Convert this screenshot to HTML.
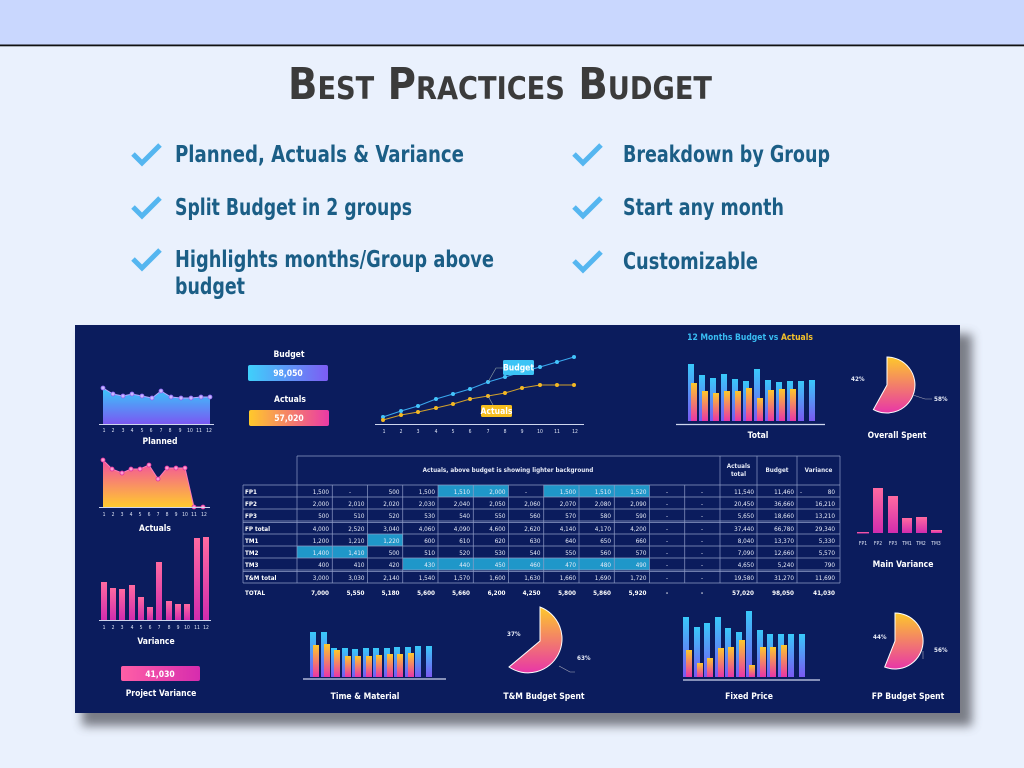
<!DOCTYPE html>
<html><head><meta charset="utf-8"><style>
html,body{margin:0;padding:0;width:1024px;height:768px;overflow:hidden;background:#eaf1fd}
svg{display:block}
text{font-family:"DejaVu Sans Condensed","Liberation Sans",sans-serif}
.t{fill:#e8ecf8;font-size:6.3px}
.tc{fill:#e8ecf8;font-size:6.3px;text-anchor:middle}
.tl{fill:#fff;font-size:6.3px;font-weight:bold}
.ax{fill:#dfe5f5;font-size:5px;text-anchor:middle}
.lbl{fill:#fff;font-size:8.5px;font-weight:bold;text-anchor:middle}
.bul{fill:#1b5e86;font-size:23px;font-weight:bold}
.chk{fill:none;stroke:#55b6f0;stroke-width:5;stroke-linecap:butt}
.g{stroke:#8f9cc6;stroke-width:.7}
</style></head><body>
<svg width="1024" height="768" viewBox="0 0 1024 768" xmlns="http://www.w3.org/2000/svg">
<defs>
<linearGradient id="gb" x1="0" y1="0" x2="0" y2="1"><stop offset="0" stop-color="#38c9fa"/><stop offset="1" stop-color="#7a58f2"/></linearGradient>
<linearGradient id="gy" x1="0" y1="0" x2="0" y2="1"><stop offset="0" stop-color="#fdc82b"/><stop offset="1" stop-color="#e836a8"/></linearGradient>
<linearGradient id="gp" x1="0" y1="0" x2="0" y2="1"><stop offset="0" stop-color="#ff6aa0"/><stop offset="1" stop-color="#d22cae"/></linearGradient>
<linearGradient id="ga" x1="0" y1="0" x2="0" y2="1"><stop offset="0" stop-color="#f24fa0"/><stop offset="1" stop-color="#ffca2e"/></linearGradient>
<linearGradient id="hb" x1="0" y1="0" x2="1" y2="0"><stop offset="0" stop-color="#3fd0fb"/><stop offset="1" stop-color="#7d5cf3"/></linearGradient>
<linearGradient id="hy" x1="0" y1="0" x2="1" y2="0"><stop offset="0" stop-color="#ffc92b"/><stop offset="1" stop-color="#ea3aa6"/></linearGradient>
<linearGradient id="hp" x1="0" y1="0" x2="1" y2="0"><stop offset="0" stop-color="#ff5fa6"/><stop offset="1" stop-color="#d62cae"/></linearGradient>
<filter id="sh" x="-5%" y="-5%" width="115%" height="120%"><feGaussianBlur stdDeviation="5"/></filter>
</defs>
<rect x="0" y="0" width="1024" height="45" fill="#c9d7fe"/>
<rect x="0" y="44.5" width="1024" height="1.8" fill="#111"/>
<text x="288" y="99" font-size="44" font-weight="bold" fill="#3b3b3b" style="font-variant:small-caps" textLength="424" lengthAdjust="spacingAndGlyphs">Best Practices Budget</text>

<path class="chk" d="M133 154 L142 163 L160 145"/>
<path class="chk" d="M133 207 L142 216 L160 198"/>
<path class="chk" d="M133 259 L142 268 L160 250"/>
<path class="chk" d="M574 154 L583 163 L601 145"/>
<path class="chk" d="M574 207 L583 216 L601 198"/>
<path class="chk" d="M574 261 L583 270 L601 252"/>
<text class="bul" x="175" y="162" textLength="289" lengthAdjust="spacingAndGlyphs">Planned,  Actuals &amp; Variance</text>
<text class="bul" x="175" y="215" textLength="237" lengthAdjust="spacingAndGlyphs">Split Budget in 2 groups</text>
<text class="bul" x="175" y="267" textLength="319" lengthAdjust="spacingAndGlyphs">Highlights months/Group above</text>
<text class="bul" x="175" y="294" textLength="70" lengthAdjust="spacingAndGlyphs">budget</text>
<text class="bul" x="623" y="162" textLength="207" lengthAdjust="spacingAndGlyphs">Breakdown by Group</text>
<text class="bul" x="623" y="215" textLength="161" lengthAdjust="spacingAndGlyphs">Start any month</text>
<text class="bul" x="623" y="269" textLength="135" lengthAdjust="spacingAndGlyphs">Customizable</text>

<rect x="82" y="334" width="890" height="392" fill="#55565e" opacity="0.75" filter="url(#sh)"/>
<rect x="75" y="325" width="885" height="388" fill="#0b1c5d"/>

<path d="M103 388 L113 394 L123 396 L132 394 L142 396 L152 398 L161 391 L171 397 L181 398 L191 398 L201 397 L210 397 L210 424 L103 424 Z" fill="url(#gb)"/>
<polyline points="103,388 113,394 123,396 132,394 142,396 152,398 161,391 171,397 181,398 191,398 201,397 210,397" fill="none" stroke="#b9a6ff" stroke-width="1"/>
<g fill="#c8b7ff" stroke="#8b63f0" stroke-width=".8"><circle cx="103" cy="388" r="2"/><circle cx="113" cy="394" r="2"/><circle cx="123" cy="396" r="2"/><circle cx="132" cy="394" r="2"/><circle cx="142" cy="396" r="2"/><circle cx="152" cy="398" r="2"/><circle cx="161" cy="391" r="2"/><circle cx="171" cy="397" r="2"/><circle cx="181" cy="398" r="2"/><circle cx="191" cy="398" r="2"/><circle cx="201" cy="397" r="2"/><circle cx="210" cy="397" r="2"/></g>
<line x1="99" y1="424.5" x2="214" y2="424.5" stroke="#cfd6ee" stroke-width="1"/>
<g class="ax"><text x="104" y="432">1</text><text x="113" y="432">2</text><text x="123" y="432">3</text><text x="132" y="432">4</text><text x="142" y="432">5</text><text x="151" y="432">6</text><text x="161" y="432">7</text><text x="170" y="432">8</text><text x="180" y="432">9</text><text x="190" y="432">10</text><text x="199" y="432">11</text><text x="209" y="432">12</text></g>
<text class="lbl" x="160" y="444">Planned</text>

<path d="M103 460 L112 469 L122 473 L131 469 L140 469 L149 465 L158 479 L167 468 L176 468 L185 468 L194 507 L103 507 Z" fill="url(#ga)"/>
<polyline points="103,460 112,469 122,473 131,469 140,469 149,465 158,479 167,468 176,468 185,468 194,507 203,507" fill="none" stroke="#ff79b8" stroke-width="1"/>
<g fill="#ff9ad0" stroke="#e0309c" stroke-width=".8"><circle cx="103" cy="460" r="2"/><circle cx="112" cy="469" r="2"/><circle cx="122" cy="473" r="2"/><circle cx="131" cy="469" r="2"/><circle cx="140" cy="469" r="2"/><circle cx="149" cy="465" r="2"/><circle cx="158" cy="479" r="2"/><circle cx="167" cy="468" r="2"/><circle cx="176" cy="468" r="2"/><circle cx="185" cy="468" r="2"/><circle cx="194" cy="507" r="2"/><circle cx="203" cy="507" r="2"/></g>
<line x1="99" y1="507.5" x2="210" y2="507.5" stroke="#cfd6ee" stroke-width="1"/>
<g class="ax"><text x="104" y="516">1</text><text x="113" y="516">2</text><text x="122" y="516">3</text><text x="131" y="516">4</text><text x="140" y="516">5</text><text x="149" y="516">6</text><text x="158" y="516">7</text><text x="167" y="516">8</text><text x="176" y="516">9</text><text x="185" y="516">10</text><text x="194" y="516">11</text><text x="204" y="516">12</text></g>
<text class="lbl" x="155" y="531">Actuals</text>

<g fill="url(#gp)"><rect x="101" y="582" width="6" height="38"/><rect x="110" y="588" width="6" height="32"/><rect x="119" y="589" width="6" height="31"/><rect x="129" y="585" width="6" height="35"/><rect x="138" y="597" width="6" height="23"/><rect x="147" y="607" width="6" height="13"/><rect x="156" y="562" width="6" height="58"/><rect x="166" y="601" width="6" height="19"/><rect x="175" y="604" width="6" height="16"/><rect x="184" y="604" width="6" height="16"/><rect x="194" y="538" width="6" height="82"/><rect x="203" y="537" width="6" height="83"/></g>
<line x1="99" y1="620.5" x2="211" y2="620.5" stroke="#cfd6ee" stroke-width="1"/>
<g class="ax"><text x="104" y="629">1</text><text x="113" y="629">2</text><text x="122" y="629">3</text><text x="132" y="629">4</text><text x="141" y="629">5</text><text x="150" y="629">6</text><text x="159" y="629">7</text><text x="169" y="629">8</text><text x="178" y="629">9</text><text x="187" y="629">10</text><text x="197" y="629">11</text><text x="206" y="629">12</text></g>
<text class="lbl" x="156" y="644">Variance</text>
<rect x="121" y="666" width="79" height="15" rx="2" fill="url(#hp)"/>
<text class="lbl" x="160" y="677" font-size="9">41,030</text>
<text class="lbl" x="161" y="696" font-size="8">Project Variance</text>

<text class="lbl" x="289" y="357" font-size="8">Budget</text>
<rect x="248" y="365" width="80" height="16" rx="2" fill="url(#hb)"/>
<text class="lbl" x="288" y="376" font-size="8.5">98,050</text>
<text class="lbl" x="290" y="402" font-size="8">Actuals</text>
<rect x="249" y="410" width="80" height="16" rx="2" fill="url(#hy)"/>
<text class="lbl" x="289" y="421" font-size="8.5">57,020</text>

<polyline points="383,417 401,411 418,406 436,399 453,394 470,389 488,382 505,377 522,372 540,367 557,362 574,357" fill="none" stroke="#3aa9ef" stroke-width="1"/>
<polyline points="383,420 401,415 418,412 436,408 453,404 470,399 488,396 505,393 522,388 540,385 557,385 574,385" fill="none" stroke="#d2a12b" stroke-width="1"/>
<g fill="#43c4fb"><circle cx="383" cy="417" r="2"/><circle cx="401" cy="411" r="2"/><circle cx="418" cy="406" r="2"/><circle cx="436" cy="399" r="2"/><circle cx="453" cy="394" r="2"/><circle cx="470" cy="389" r="2"/><circle cx="488" cy="382" r="2"/><circle cx="505" cy="377" r="2"/><circle cx="522" cy="372" r="2"/><circle cx="540" cy="367" r="2"/><circle cx="557" cy="362" r="2"/><circle cx="574" cy="357" r="2"/></g>
<g fill="#f4b823"><circle cx="383" cy="420" r="2"/><circle cx="401" cy="415" r="2"/><circle cx="418" cy="412" r="2"/><circle cx="436" cy="408" r="2"/><circle cx="453" cy="404" r="2"/><circle cx="470" cy="399" r="2"/><circle cx="488" cy="396" r="2"/><circle cx="505" cy="393" r="2"/><circle cx="522" cy="388" r="2"/><circle cx="540" cy="385" r="2"/><circle cx="557" cy="385" r="2"/><circle cx="574" cy="385" r="2"/></g>
<polyline points="488,382 496,368 503,368" fill="none" stroke="#9aa" stroke-width=".6"/>
<polyline points="488,396 493,405" fill="none" stroke="#9aa" stroke-width=".6"/>
<rect x="503" y="360" width="31" height="15" rx="1.5" fill="#3cc4f6"/>
<text class="lbl" x="518.5" y="370.5" font-size="6.5">Budget</text>
<rect x="481" y="405" width="31" height="12" rx="1.5" fill="#f6be1e"/>
<text class="lbl" x="496.5" y="414" font-size="6.5">Actuals</text>
<line x1="375" y1="424.5" x2="584" y2="424.5" stroke="#cfd6ee" stroke-width="1"/>
<g class="ax"><text x="384" y="433">1</text><text x="401" y="433">2</text><text x="418" y="433">3</text><text x="436" y="433">4</text><text x="453" y="433">5</text><text x="470" y="433">6</text><text x="488" y="433">7</text><text x="505" y="433">8</text><text x="522" y="433">9</text><text x="540" y="433">10</text><text x="557" y="433">11</text><text x="575" y="433">12</text></g>

<text x="750" y="340" font-size="8.5" font-weight="bold" text-anchor="middle"><tspan fill="#39bdf3">12 Months Budget vs </tspan><tspan fill="#f6c22a">Actuals</tspan></text>
<g fill="url(#gb)"><rect x="688" y="364" width="6" height="57"/><rect x="699" y="375" width="6" height="46"/><rect x="710" y="378" width="6" height="43"/><rect x="721" y="374" width="6" height="47"/><rect x="732" y="379" width="6" height="42"/><rect x="743" y="381" width="6" height="40"/><rect x="754" y="369" width="6" height="52"/><rect x="765" y="380" width="6" height="41"/><rect x="776" y="382" width="6" height="39"/><rect x="787" y="381" width="6" height="40"/><rect x="798" y="381" width="6" height="40"/><rect x="809" y="380" width="6" height="41"/></g>
<g fill="url(#gy)"><rect x="691" y="383" width="6" height="38"/><rect x="702" y="391" width="6" height="30"/><rect x="713" y="393" width="6" height="28"/><rect x="724" y="391" width="6" height="30"/><rect x="735" y="391" width="6" height="30"/><rect x="746" y="388" width="6" height="33"/><rect x="757" y="398" width="6" height="23"/><rect x="768" y="390" width="6" height="31"/><rect x="779" y="389" width="6" height="32"/><rect x="790" y="389" width="6" height="32"/></g>
<line x1="676" y1="424.5" x2="825" y2="424.5" stroke="#cfd6ee" stroke-width="1.3"/>
<text class="lbl" x="758" y="438" font-size="8">Total</text>

<path d="M887 385 L887 357 A28 28 0 1 1 873.4 409.5 Z" fill="url(#gy)" stroke="#fff" stroke-width="1"/>
<polyline points="913,395 925,399 932,399" fill="none" stroke="#aab" stroke-width=".6"/>
<text class="t" x="851" y="381" font-weight="bold" font-size="5.5">42%</text>
<text class="t" x="934" y="401" font-weight="bold" font-size="5.5">58%</text>
<text class="lbl" x="897" y="438" font-size="8">Overall Spent</text>

<g fill="url(#gp)"><rect x="857" y="532" width="12" height="1.5"/><rect x="873" y="488" width="10" height="45"/><rect x="888" y="496" width="10" height="37"/><rect x="902" y="518" width="10" height="15"/><rect x="916" y="517" width="11" height="16"/><rect x="931" y="530" width="11" height="3"/></g>
<g class="ax" font-size="5.5"><text x="863" y="545">FP1</text><text x="878" y="545">FP2</text><text x="893" y="545">FP3</text><text x="907" y="545">TM1</text><text x="921" y="545">TM2</text><text x="936" y="545">TM3</text></g>
<text class="lbl" x="903" y="567" font-size="8">Main Variance</text>

<g fill="#1f97c9">
<rect x="438" y="485" width="70.5" height="12"/><rect x="543.75" y="485" width="105.75" height="12"/>
<rect x="367.5" y="534" width="35.25" height="12"/>
<rect x="297" y="546" width="70.5" height="12"/>
<rect x="402.75" y="558" width="246.75" height="12"/>
</g>
<g class="g">
<line x1="297" y1="456" x2="840" y2="456"/>
<line x1="243" y1="485" x2="840" y2="485"/>
<line x1="243" y1="497" x2="840" y2="497"/>
<line x1="243" y1="509" x2="840" y2="509"/>
<line x1="243" y1="521" x2="840" y2="521"/>
<line x1="243" y1="522.6" x2="840" y2="522.6"/>
<line x1="243" y1="534" x2="840" y2="534"/>
<line x1="243" y1="546" x2="840" y2="546"/>
<line x1="243" y1="558" x2="840" y2="558"/>
<line x1="243" y1="570" x2="840" y2="570"/>
<line x1="243" y1="571.6" x2="840" y2="571.6"/>
<line x1="243" y1="583" x2="840" y2="583"/>
<line x1="243" y1="485" x2="243" y2="583"/>
<line x1="297" y1="456" x2="297" y2="583"/>
<line x1="720" y1="456" x2="720" y2="583"/>
<line x1="757" y1="456" x2="757" y2="583"/>
<line x1="797" y1="456" x2="797" y2="583"/>
<line x1="840" y1="456" x2="840" y2="583"/>
<line x1="332.25" y1="485" x2="332.25" y2="583"/><line x1="367.5" y1="485" x2="367.5" y2="583"/><line x1="402.75" y1="485" x2="402.75" y2="583"/><line x1="438" y1="485" x2="438" y2="583"/><line x1="473.25" y1="485" x2="473.25" y2="583"/><line x1="508.5" y1="485" x2="508.5" y2="583"/><line x1="543.75" y1="485" x2="543.75" y2="583"/><line x1="579" y1="485" x2="579" y2="583"/><line x1="614.25" y1="485" x2="614.25" y2="583"/><line x1="649.5" y1="485" x2="649.5" y2="583"/><line x1="684.75" y1="485" x2="684.75" y2="583"/>
</g>
<text class="tc" x="508" y="472" font-weight="bold">Actuals, above budget is showing lighter background</text>
<text class="tc" x="738.5" y="468" font-weight="bold">Actuals</text>
<text class="tc" x="738.5" y="476" font-weight="bold">total</text>
<text class="tc" x="777" y="472" font-weight="bold">Budget</text>
<text class="tc" x="818.5" y="472" font-weight="bold">Variance</text>

<g class="tl"><text x="245" y="494">FP1</text><text x="245" y="506">FP2</text><text x="245" y="518">FP3</text><text x="245" y="531">FP total</text><text x="245" y="543">TM1</text><text x="245" y="555">TM2</text><text x="245" y="567">TM3</text><text x="245" y="580">T&amp;M total</text><text x="245" y="595">TOTAL</text></g>

<g class="t" text-anchor="end">
<g transform="translate(0,494)"><text x="329">1,500</text><text x="350" text-anchor="middle">-</text><text x="399.5">500</text><text x="435">1,500</text><text x="470">1,510</text><text x="505.5">2,000</text><text x="526" text-anchor="middle">-</text><text x="576">1,500</text><text x="611">1,510</text><text x="646.5">1,520</text><text x="667" text-anchor="middle">-</text><text x="702" text-anchor="middle">-</text><text x="754">11,540</text><text x="794">11,460</text><text x="800" text-anchor="start">-</text><text x="835">80</text></g>
<g transform="translate(0,506)"><text x="329">2,000</text><text x="364.5">2,010</text><text x="399.5">2,020</text><text x="435">2,030</text><text x="470">2,040</text><text x="505.5">2,050</text><text x="540.5">2,060</text><text x="576">2,070</text><text x="611">2,080</text><text x="646.5">2,090</text><text x="667" text-anchor="middle">-</text><text x="702" text-anchor="middle">-</text><text x="754">20,450</text><text x="794">36,660</text><text x="835">16,210</text></g>
<g transform="translate(0,518)"><text x="329">500</text><text x="364.5">510</text><text x="399.5">520</text><text x="435">530</text><text x="470">540</text><text x="505.5">550</text><text x="540.5">560</text><text x="576">570</text><text x="611">580</text><text x="646.5">590</text><text x="667" text-anchor="middle">-</text><text x="702" text-anchor="middle">-</text><text x="754">5,650</text><text x="794">18,660</text><text x="835">13,210</text></g>
<g transform="translate(0,531)"><text x="329">4,000</text><text x="364.5">2,520</text><text x="399.5">3,040</text><text x="435">4,060</text><text x="470">4,090</text><text x="505.5">4,600</text><text x="540.5">2,620</text><text x="576">4,140</text><text x="611">4,170</text><text x="646.5">4,200</text><text x="667" text-anchor="middle">-</text><text x="702" text-anchor="middle">-</text><text x="754">37,440</text><text x="794">66,780</text><text x="835">29,340</text></g>
<g transform="translate(0,543)"><text x="329">1,200</text><text x="364.5">1,210</text><text x="399.5">1,220</text><text x="435">600</text><text x="470">610</text><text x="505.5">620</text><text x="540.5">630</text><text x="576">640</text><text x="611">650</text><text x="646.5">660</text><text x="667" text-anchor="middle">-</text><text x="702" text-anchor="middle">-</text><text x="754">8,040</text><text x="794">13,370</text><text x="835">5,330</text></g>
<g transform="translate(0,555)"><text x="329">1,400</text><text x="364.5">1,410</text><text x="399.5">500</text><text x="435">510</text><text x="470">520</text><text x="505.5">530</text><text x="540.5">540</text><text x="576">550</text><text x="611">560</text><text x="646.5">570</text><text x="667" text-anchor="middle">-</text><text x="702" text-anchor="middle">-</text><text x="754">7,090</text><text x="794">12,660</text><text x="835">5,570</text></g>
<g transform="translate(0,567)"><text x="329">400</text><text x="364.5">410</text><text x="399.5">420</text><text x="435">430</text><text x="470">440</text><text x="505.5">450</text><text x="540.5">460</text><text x="576">470</text><text x="611">480</text><text x="646.5">490</text><text x="667" text-anchor="middle">-</text><text x="702" text-anchor="middle">-</text><text x="754">4,650</text><text x="794">5,240</text><text x="835">790</text></g>
<g transform="translate(0,580)"><text x="329">3,000</text><text x="364.5">3,030</text><text x="399.5">2,140</text><text x="435">1,540</text><text x="470">1,570</text><text x="505.5">1,600</text><text x="540.5">1,630</text><text x="576">1,660</text><text x="611">1,690</text><text x="646.5">1,720</text><text x="667" text-anchor="middle">-</text><text x="702" text-anchor="middle">-</text><text x="754">19,580</text><text x="794">31,270</text><text x="835">11,690</text></g>
<g transform="translate(0,595)" font-weight="bold" fill="#fff"><text x="329">7,000</text><text x="364.5">5,550</text><text x="399.5">5,180</text><text x="435">5,600</text><text x="470">5,660</text><text x="505.5">6,200</text><text x="540.5">4,250</text><text x="576">5,800</text><text x="611">5,860</text><text x="646.5">5,920</text><text x="667" text-anchor="middle">-</text><text x="702" text-anchor="middle">-</text><text x="754">57,020</text><text x="794">98,050</text><text x="835">41,030</text></g>
</g>

<g fill="url(#gb)"><rect x="310" y="632" width="6" height="45"/><rect x="321" y="632" width="6" height="45"/><rect x="331" y="648" width="6" height="29"/><rect x="342" y="648" width="6" height="29"/><rect x="352" y="649" width="6" height="28"/><rect x="363" y="648" width="6" height="29"/><rect x="373" y="648" width="6" height="29"/><rect x="384" y="648" width="6" height="29"/><rect x="394" y="647" width="6" height="30"/><rect x="405" y="647" width="6" height="30"/><rect x="415" y="646" width="6" height="31"/><rect x="426" y="646" width="6" height="31"/></g>
<g fill="url(#gy)"><rect x="313" y="645" width="6" height="32"/><rect x="324" y="644" width="6" height="33"/><rect x="334" y="650" width="6" height="27"/><rect x="345" y="656" width="6" height="21"/><rect x="355" y="656" width="6" height="21"/><rect x="366" y="656" width="6" height="21"/><rect x="376" y="655" width="6" height="22"/><rect x="387" y="654" width="6" height="23"/><rect x="397" y="654" width="6" height="23"/><rect x="408" y="653" width="6" height="24"/></g>
<line x1="303" y1="679" x2="446" y2="679" stroke="#cfd6ee" stroke-width="1.2"/>
<text class="lbl" x="365" y="699" font-size="7.5">Time &amp; Material</text>

<path d="M540 641 L540 607 A34 34 0 1 1 509 667 Z" fill="url(#gy)" stroke="#fff" stroke-width="1"/>
<polyline points="559,666 570,672 575,672" fill="none" stroke="#aab" stroke-width=".6"/>
<text class="t" x="507" y="636" font-weight="bold" font-size="5.5">37%</text>
<text class="t" x="577" y="660" font-weight="bold" font-size="5.5">63%</text>
<text class="lbl" x="544" y="699" font-size="7.5">T&amp;M Budget Spent</text>

<g fill="url(#gb)"><rect x="683" y="617" width="6" height="60"/><rect x="694" y="627" width="6" height="50"/><rect x="704" y="623" width="6" height="54"/><rect x="715" y="617" width="6" height="60"/><rect x="725" y="628" width="6" height="49"/><rect x="736" y="632" width="6" height="45"/><rect x="746" y="611" width="6" height="66"/><rect x="757" y="630" width="6" height="47"/><rect x="767" y="634" width="6" height="43"/><rect x="778" y="634" width="6" height="43"/><rect x="788" y="634" width="6" height="43"/><rect x="799" y="634" width="6" height="43"/></g>
<g fill="url(#gy)"><rect x="686" y="650" width="6" height="27"/><rect x="697" y="663" width="6" height="14"/><rect x="707" y="658" width="6" height="19"/><rect x="718" y="648" width="6" height="29"/><rect x="728" y="647" width="6" height="30"/><rect x="739" y="640" width="6" height="37"/><rect x="749" y="665" width="6" height="12"/><rect x="760" y="647" width="6" height="30"/><rect x="770" y="647" width="6" height="30"/><rect x="781" y="645" width="6" height="32"/></g>
<line x1="683" y1="680" x2="820" y2="680" stroke="#cfd6ee" stroke-width="1.2"/>
<text class="lbl" x="749" y="699" font-size="7.5">Fixed Price</text>

<path d="M895 641 L895 613 A28 28 0 1 1 884.7 667 Z" fill="url(#gy)" stroke="#fff" stroke-width="1"/>
<line x1="923" y1="651" x2="923" y2="659" stroke="#aab" stroke-width=".6"/>
<text class="t" x="873" y="639" font-weight="bold" font-size="5.5">44%</text>
<text class="t" x="934" y="652" font-weight="bold" font-size="5.5">56%</text>
<text class="lbl" x="908" y="699" font-size="7.5">FP Budget Spent</text>
</svg>
</body></html>
